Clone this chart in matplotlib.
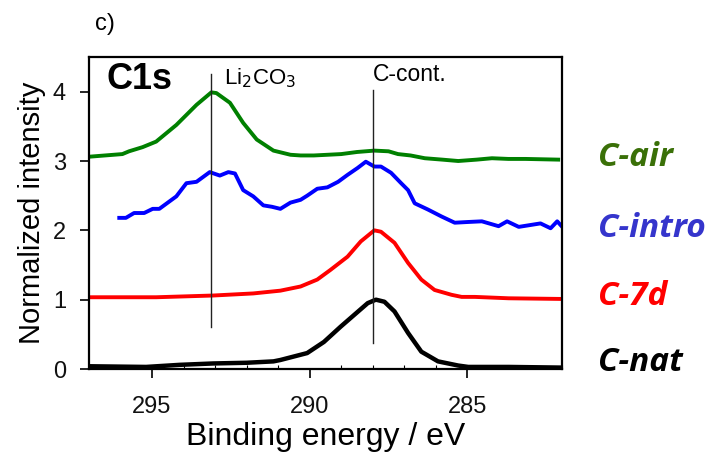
import numpy as np
import matplotlib
matplotlib.use('Agg')
from matplotlib import pyplot as plt
from matplotlib.ticker import MultipleLocator

plt.rcParams['font.family'] = ['Liberation Sans', 'DejaVu Sans']

# C-air (green)
air_x = [297.05, 295.94, 295.73, 295.3, 294.87, 294.23, 293.59, 293.12, 292.96, 292.53,
         292.11, 291.68, 291.15, 290.61, 290.29, 289.87, 289.0, 288.5, 287.95, 287.5,
         287.2, 286.8, 286.35, 285.8, 285.29, 284.7, 284.22, 283.7, 283.16, 282.12]
air_y = [3.06, 3.10, 3.14, 3.20, 3.28, 3.52, 3.81, 3.99, 3.98, 3.84,
         3.55, 3.31, 3.15, 3.09, 3.08, 3.08, 3.10, 3.13, 3.15, 3.14,
         3.10, 3.08, 3.04, 3.02, 3.00, 3.02, 3.04, 3.03, 3.03, 3.02]

# C-intro (blue)
intro_x = [296.04, 295.83, 295.57, 295.25, 294.98, 294.77, 294.5, 294.23, 293.91, 293.59,
           293.17, 292.85, 292.58, 292.37, 292.11, 291.79, 291.47, 291.2, 290.93, 290.61,
           290.29, 290.08, 289.76, 289.44, 289.1, 288.8, 288.48, 288.22, 287.95, 287.74,
           287.42, 287.1, 286.88, 286.67, 286.25, 285.82, 285.4, 285.0, 284.54, 284.01,
           283.74, 283.37, 282.68, 282.36, 282.15, 281.93]
intro_y = [2.18, 2.18, 2.25, 2.25, 2.31, 2.31, 2.40, 2.49, 2.68, 2.70,
           2.84, 2.79, 2.84, 2.82, 2.58, 2.49, 2.36, 2.34, 2.31, 2.40,
           2.44, 2.50, 2.60, 2.62, 2.70, 2.80, 2.90, 2.99, 2.92, 2.92,
           2.83, 2.68, 2.58, 2.39, 2.30, 2.20, 2.11, 2.12, 2.13, 2.06,
           2.13, 2.05, 2.10, 2.03, 2.13, 2.02]

# C-7d (red)
d7_x = [297.05, 294.87, 293.06, 291.79, 290.93, 290.29, 289.76, 289.34, 288.8, 288.38,
        287.95, 287.74, 287.31, 286.88, 286.46, 286.04, 285.5, 285.18, 284.76, 283.69,
        281.93]
d7_y = [1.035, 1.035, 1.06, 1.09, 1.13, 1.19, 1.29, 1.43, 1.62, 1.84,
        2.00, 1.98, 1.82, 1.53, 1.29, 1.14, 1.07, 1.04, 1.04, 1.02,
        1.01]

# C-nat (black)
nat_x = [297.05, 295.19, 294.13, 293.06, 292.0, 291.15, 290.93, 290.08, 289.55, 289.02,
         288.59, 288.16, 287.9, 287.63, 287.31, 286.88, 286.46, 285.93, 285.29, 284.97,
         283.69, 281.93]
nat_y = [0.04, 0.03, 0.06, 0.08, 0.09, 0.11, 0.13, 0.23, 0.39, 0.61,
         0.78, 0.95, 1.00, 0.97, 0.83, 0.52, 0.25, 0.11, 0.05, 0.03,
         0.03, 0.02]

names = ['C-air', 'C-intro', 'C-7d', 'C-nat']
name_colors = ['#3a7008', '#3535cc', '#ff0000', '#000000']
name_y = [3.05, 2.02, 1.05, 0.1]

fig = plt.figure(figsize=(7.08, 4.55), dpi=100)
ax = fig.add_axes([0.1257, 0.189, 0.668, 0.6857])

ax.plot(air_x, air_y, color='#008000', lw=2.8)
ax.plot(intro_x, intro_y, color='#0000ff', lw=2.8)
ax.plot(d7_x, d7_y, color='#ff0000', lw=2.8)
ax.plot(nat_x, nat_y, color='#000000', lw=3.2)

# reference lines
ax.plot([293.12, 293.12], [0.61, 4.26], color='#222222', lw=1.0)
ax.plot([288.0, 288.0], [0.37, 4.02], color='#222222', lw=1.0)
ax.text(292.72, 4.2, 'Li$_2$CO$_3$', fontsize=16, va='center', ha='left')
ax.text(288.0, 4.25, 'C-cont.', fontsize=16.5, va='center', ha='left')
ax.text(296.46, 4.17, 'C1s', fontsize=26, fontweight='bold', va='center', ha='left')

ax.set_xlim(297, 282)
ax.set_ylim(0, 4.5)
ax.set_xticks([295, 290, 285])
ax.xaxis.set_minor_locator(MultipleLocator(1))
ax.set_yticks([0, 1, 2, 3, 4])
ax.tick_params(axis='both', which='major', direction='out', length=6.5, width=1.2,
               labelsize=17, labelcolor='#111111')
ax.tick_params(axis='x', which='major', pad=13)
ax.tick_params(axis='y', which='major', pad=10)
ax.tick_params(axis='x', which='minor', direction='in', length=3, width=0.8)
for s in ax.spines.values():
    s.set_linewidth(1.6)

ax.set_xlabel('Binding energy / eV', fontsize=23, labelpad=3)
ax.set_ylabel('Normalized intensity', fontsize=21, labelpad=5)

fig.text(0.134, 0.947, 'c)', fontsize=17, va='center')

for n, c, yv in zip(names, name_colors, name_y):
    ax.annotate(n, xy=(1.0, yv), xycoords=('axes fraction', 'data'),
                xytext=(26, 0), textcoords='offset points',
                fontsize=24, fontweight='bold', fontstyle='italic', color=c,
                family=['Open Sans', 'DejaVu Sans'], va='center', ha='left',
                annotation_clip=False)

fig.savefig('out.png', dpi=100)
